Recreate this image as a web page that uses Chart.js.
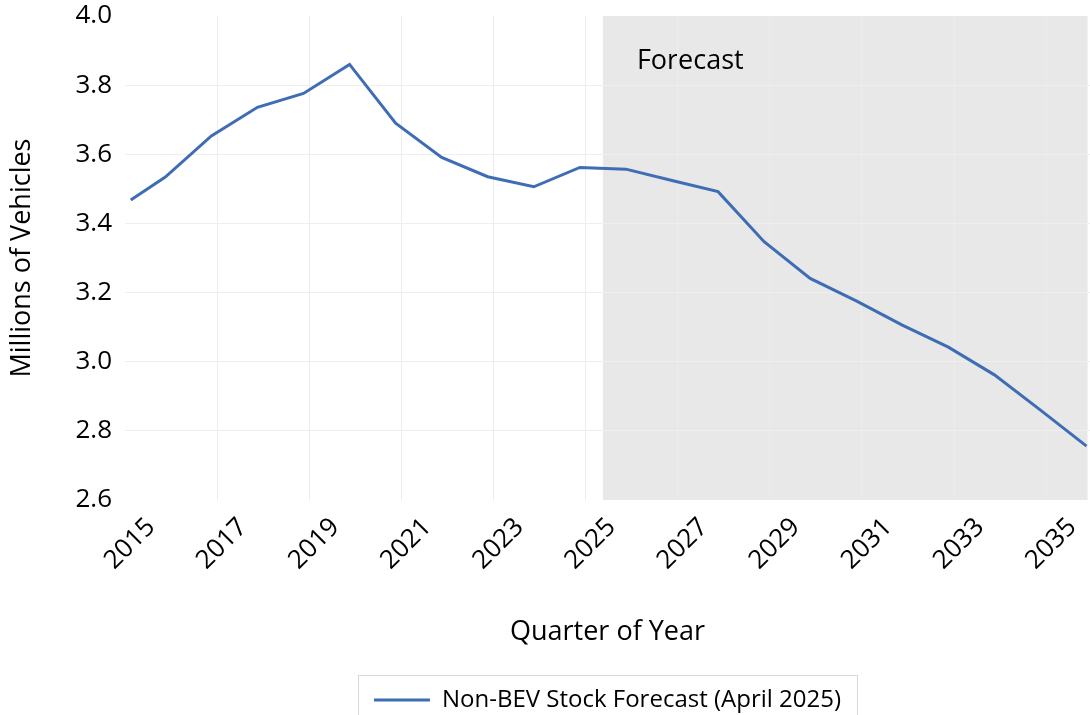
<!DOCTYPE html>
<html>
<head>
<meta charset="utf-8">
<script src="https://cdn.jsdelivr.net/npm/chart.js@4"></script>
<style>
  html, body { margin: 0; padding: 0; background: #fff; }
  #wrap { width: 1090px; height: 715px; }
</style>
</head>
<body>
<div id="wrap"><canvas id="stockChart" width="1090" height="715"></canvas></div>
<script>
// quarters where the line visibly bends, and the stock read at each of them
const pointQuarters = [
  "2015 Q1", "2015 Q4", "2016 Q4", "2017 Q4", "2018 Q4", "2019 Q4", "2020 Q4",
  "2021 Q4", "2022 Q4", "2023 Q4", "2024 Q4", "2025 Q4", "2026 Q4", "2027 Q4",
  "2028 Q4", "2029 Q4", "2030 Q4", "2031 Q4", "2032 Q4", "2033 Q4", "2034 Q4",
  "2035 Q4",
];
const stockMillions = [
  3.468, 3.534, 3.653, 3.736, 3.776, 3.860, 3.690,
  3.591, 3.535, 3.506, 3.562, 3.557, 3.524, 3.492,
  3.347, 3.241, 3.176, 3.106, 3.042, 2.962, 2.860,
  2.756,
];
const tickYears = [2015, 2017, 2019, 2021, 2023, 2025, 2027, 2029, 2031, 2033, 2035];
const yTicks = [2.6, 2.8, 3.0, 3.2, 3.4, 3.6, 3.8, 4.0];
const forecastStart = "2025 Q2";
const seriesLabel = "Non-BEV Stock Forecast (April 2025)";

const FONT = "'Open Sans', 'Noto Sans', sans-serif";
const LINE_COLOR = "#3f6db5";

// "2019 Q4" -> centre of that quarter in decimal years
function quarterToX(label) {
  const [year, q] = label.split(" Q").map(Number);
  return year + (q - 0.5) / 4;
}

function near(a, b) {
  return Math.abs(a - b) < 1e-6;
}

const forecastShade = {
  id: "forecastShade",
  beforeDraw(chart) {
    const { ctx, chartArea, scales } = chart;
    const x0 = scales.x.getPixelForValue(quarterToX(forecastStart));
    const x1 = scales.x.getPixelForValue(quarterToX(pointQuarters[pointQuarters.length - 1]));
    ctx.save();
    ctx.fillStyle = "#e8e8e8";
    ctx.fillRect(x0, chartArea.top, x1 - x0 + 1, chartArea.bottom - chartArea.top);
    ctx.fillStyle = "#000";
    ctx.font = `27px ${FONT}`;
    ctx.textBaseline = "alphabetic";
    ctx.fillText("Forecast", x0 + 34, chartArea.top + 53);
    ctx.restore();
  },
};

// legend sits under the plot area (not the whole canvas), framed by a thin grey box
const legendFrame = {
  id: "legendFrame",
  afterLayout(chart) {
    const lg = chart.legend;
    const shift = (chart.chartArea.left + chart.chartArea.right) / 2 - (lg.left + lg.right) / 2;
    lg.left += shift;
    lg.right += shift;
    lg.top += 7;
    lg.bottom += 7;
  },
  afterDraw(chart) {
    const lg = chart.legend;
    const opts = lg.options.labels;
    const { ctx } = chart;
    ctx.save();
    ctx.font = `${opts.font.size}px ${FONT}`;
    const itemWidth = opts.pointStyleWidth + opts.font.size / 2 + ctx.measureText(seriesLabel).width;
    const mid = (lg.left + lg.right) / 2;
    const left = Math.round(mid - itemWidth / 2 - 16) + 0.5;
    const width = Math.round(itemWidth + 32);
    ctx.strokeStyle = "#d9d9d9";
    ctx.lineWidth = 1;
    ctx.strokeRect(left, Math.round(lg.top - 3) + 0.5, width, 80);
    ctx.restore();
  },
};

new Chart(document.getElementById("stockChart"), {
  type: "line",
  data: {
    datasets: [
      {
        label: seriesLabel,
        data: pointQuarters.map((q, i) => ({ x: quarterToX(q), y: stockMillions[i] })),
        borderColor: LINE_COLOR,
        backgroundColor: LINE_COLOR,
        borderWidth: 3,
        pointRadius: 0,
        pointStyle: "line",
        tension: 0,
      },
    ],
  },
  options: {
    responsive: false,
    animation: false,
    layout: { padding: { top: 16, right: 0, left: 0, bottom: 0 } },
    plugins: {
      legend: {
        position: "bottom",
        labels: {
          color: "#000",
          font: { family: FONT, size: 24 },
          usePointStyle: true,
          pointStyle: "line",
          pointStyleWidth: 56,
          padding: 10,
        },
      },
      tooltip: { enabled: false },
    },
    scales: {
      x: {
        type: "linear",
        min: 2015,
        max: 2035.95,
        afterBuildTicks: (scale) => {
          scale.ticks = tickYears.map((y) => ({ value: y }));
        },
        afterFit: (scale) => {
          scale.height = 171;
        },
        border: { display: false },
        grid: {
          drawTicks: false,
          color: (ctx) => (ctx.tick && near(ctx.tick.value, tickYears[0]) ? "rgba(0,0,0,0)" : "#ececec"),
        },
        ticks: {
          color: "#000",
          font: { family: FONT, size: 26 },
          minRotation: 45,
          maxRotation: 45,
          labelOffset: 26,
          padding: 12,
          callback: (v) => String(v),
        },
        title: {
          display: true,
          text: "Quarter of Year",
          color: "#000",
          font: { family: FONT, size: 27 },
          padding: { top: 30, bottom: 22 },
        },
      },
      y: {
        min: yTicks[0],
        max: yTicks[yTicks.length - 1],
        afterBuildTicks: (scale) => {
          scale.ticks = yTicks.map((v) => ({ value: v }));
        },
        afterFit: (scale) => {
          scale.width = 125;
          scale.paddingTop = 0;
          scale.paddingBottom = 0;
        },
        border: { display: false },
        grid: {
          drawTicks: false,
          color: (ctx) =>
            ctx.tick && (near(ctx.tick.value, yTicks[0]) || near(ctx.tick.value, yTicks[yTicks.length - 1]))
              ? "rgba(0,0,0,0)"
              : "#efefef",
        },
        ticks: {
          color: "#000",
          font: { family: FONT, size: 26 },
          padding: 13,
          callback: (v) => Number(v).toFixed(1),
        },
        title: {
          display: true,
          text: "Millions of Vehicles",
          color: "#000",
          font: { family: FONT, size: 27 },
          padding: { top: 6, bottom: 0 },
        },
      },
    },
  },
  plugins: [forecastShade, legendFrame],
});
</script>
</body>
</html>
